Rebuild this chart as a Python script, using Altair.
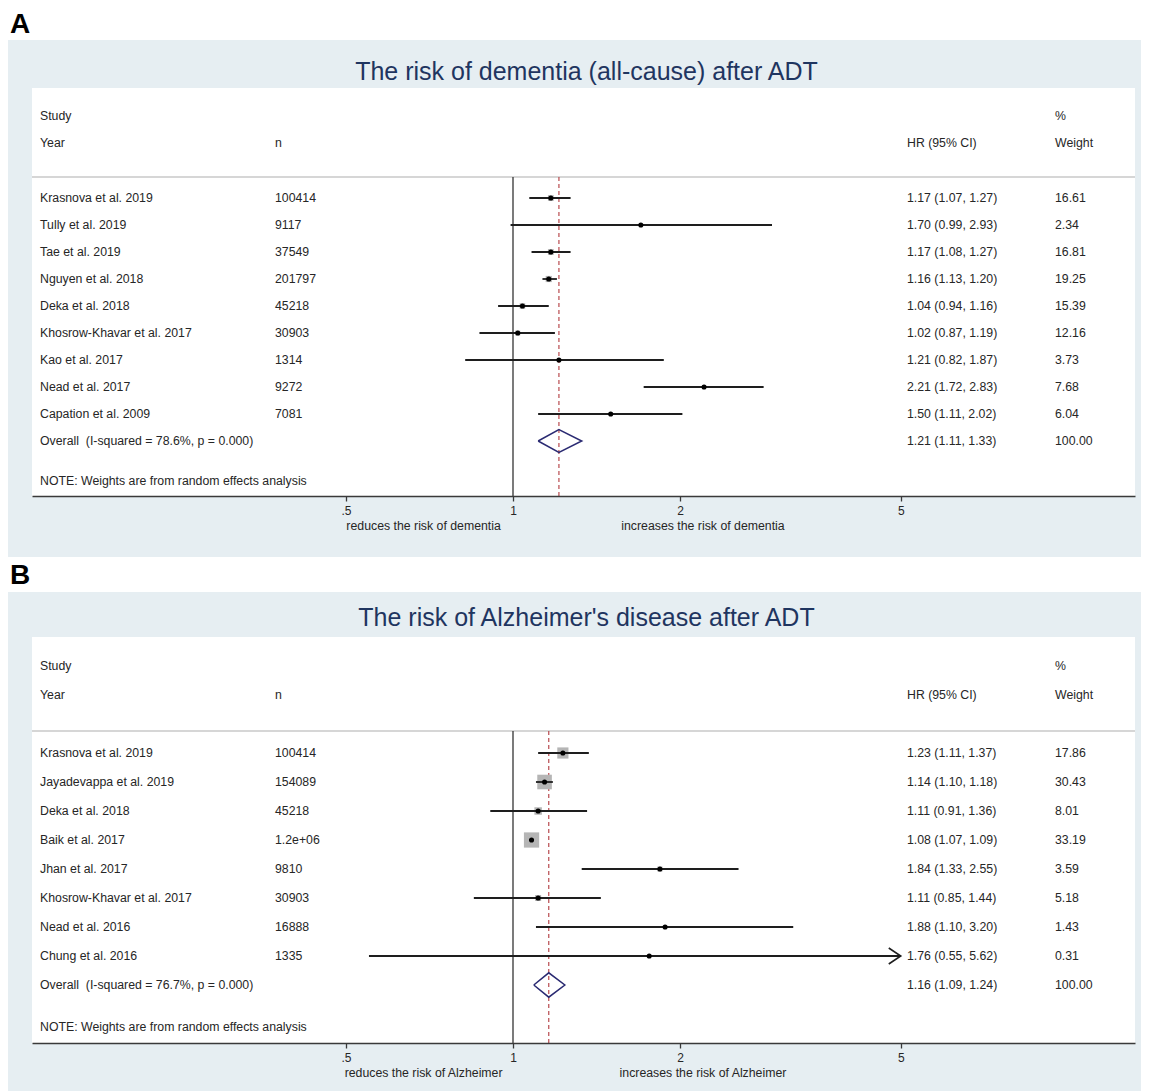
import altair as alt
import pandas as pd

# ---------------- data: panel A ----------------
title_a = "The risk of dementia (all-cause) after ADT"
studies_a = ["Krasnova et al. 2019", "Tully et al. 2019", "Tae et al. 2019",
             "Nguyen et al. 2018", "Deka et al. 2018", "Khosrow-Khavar et al. 2017",
             "Kao et al. 2017", "Nead et al. 2017", "Capation et al. 2009"]
n_a = ["100414", "9117", "37549", "201797", "45218", "30903", "1314", "9272", "7081"]
hr_a = [1.17, 1.70, 1.17, 1.16, 1.04, 1.02, 1.21, 2.21, 1.50]
lo_a = [1.07, 0.99, 1.08, 1.13, 0.94, 0.87, 0.82, 1.72, 1.11]
hi_a = [1.27, 2.93, 1.27, 1.20, 1.16, 1.19, 1.87, 2.83, 2.02]
weight_a = [16.61, 2.34, 16.81, 19.25, 15.39, 12.16, 3.73, 7.68, 6.04]
overall_a = [1.21, 1.11, 1.33]
isq_a = "78.6%"
p_a = "0.000"
outcome_a = "dementia"

# ---------------- data: panel B ----------------
title_b = "The risk of Alzheimer's disease after ADT"
studies_b = ["Krasnova et al. 2019", "Jayadevappa et al. 2019", "Deka et al. 2018",
             "Baik et al. 2017", "Jhan et al. 2017", "Khosrow-Khavar et al. 2017",
             "Nead et al. 2016", "Chung et al. 2016"]
n_b = ["100414", "154089", "45218", "1.2e+06", "9810", "30903", "16888", "1335"]
hr_b = [1.23, 1.14, 1.11, 1.08, 1.84, 1.11, 1.88, 1.76]
lo_b = [1.11, 1.10, 0.91, 1.07, 1.33, 0.85, 1.10, 0.55]
hi_b = [1.37, 1.18, 1.36, 1.09, 2.55, 1.44, 3.20, 5.62]
weight_b = [17.86, 30.43, 8.01, 33.19, 3.59, 5.18, 1.43, 0.31]
overall_b = [1.16, 1.09, 1.24]
isq_b = "76.7%"
p_b = "0.000"
outcome_b = "Alzheimer"

tick_values = [0.5, 1, 2, 5]
note_text = "NOTE: Weights are from random effects analysis"

# ---------------- style / layout ----------------
FONT = "Liberation Sans"
TXT = "#262626"
BG = "#e6eef2"
W = 1103          # white plotting region width
X_ONE = 481       # pixel of HR = 1 inside the region
UNIT = 167        # pixels per doubling
XMIN = 2 ** (-X_ONE / UNIT)
XMAX = 2 ** ((W - X_ONE) / UNIT)
X_END = 5         # end of the forest-plot x range (arrows beyond)
FS = 12.3
COL_STUDY, COL_N, COL_HR, COL_W = 8, 243, 875, 1023
FRAME_L, FRAME_R = -24, 1109

lay_a = dict(H=408, row0=110, step=27, study=28, year=55, sep=89, note=393,
             title=-16, letter=-63, sub=438, ft=-48, fb=469, spacer=-80,
             sq_range=40, sq_dom=20)
lay_b = dict(H=406, row0=116, step=29, study=29, year=58, sep=94, note=390,
             title=-19, letter=-61, sub=436, ft=-45, fb=454, spacer=-80,
             sq_range=245, sq_dom=35)


def panel(letter, title, studies, ns, hr, lo, hi, weights, overall, isq, pval, outcome, lay):
    H = lay["H"]
    y_top = -lay["row0"] / lay["step"]
    y_bot = (H - lay["row0"]) / lay["step"]
    xs = alt.Scale(type="log", domain=[XMIN, XMAX], nice=False, zero=False)
    ys = alt.Scale(domain=[y_top, y_bot], reverse=True, nice=False, zero=False)
    xaxis = alt.Axis(values=tick_values,
                     labelExpr="datum.value == 0.5 ? '.5' : format(datum.value, 'd')",
                     title=None, grid=False, tickSize=5, tickWidth=1.3,
                     tickColor="#3a3a3a", domainColor="#3a3a3a", domainWidth=1.6,
                     labelFont=FONT, labelFontSize=12, labelColor=TXT,
                     labelPadding=4, labelFlush=False, zindex=1)

    def X(f):
        return alt.X(f, type="quantitative", scale=xs, axis=xaxis)

    def Y(f):
        return alt.Y(f, type="quantitative", scale=ys, axis=None)

    k = len(studies)
    df = pd.DataFrame({"study": studies, "n": ns, "hr": hr, "lo": lo, "hi": hi, "w": weights})
    df["row"] = list(range(k))
    df["hi_draw"] = df["hi"].clip(upper=X_END)
    df["hr_text"] = [f"{e:.2f} ({l:.2f}, {h:.2f})" for e, l, h in zip(hr, lo, hi)]
    df["w_text"] = [f"{v:.2f}" for v in weights]

    est, olo, ohi = overall
    ov = pd.DataFrame({"row": [k],
                       "label": [f"Overall\u00a0 (I-squared = {isq}, p = {pval})"],
                       "hr_text": [f"{est:.2f} ({olo:.2f}, {ohi:.2f})"],
                       "w_text": ["100.00"]})
    h = 0.42
    diamond = pd.DataFrame({"x": [olo, est, ohi, est, olo],
                            "y": [k, k - h, k, k + h, k],
                            "o": [0, 1, 2, 3, 4]})
    arrows = df[df["hi"] > X_END].assign(xa=X_END)
    one = pd.DataFrame({"d": [0]})
    refs = pd.DataFrame({"x": [1.0]})
    est_ref = pd.DataFrame({"x": [est]})
    subs = pd.DataFrame({"x": [0.69, 2.2],
                         "t": [f"reduces the risk of {outcome}", f"increases the risk of {outcome}"]})
    headers = pd.DataFrame({
        "t": ["Study", "Year", "n", "HR (95% CI)", "%", "Weight"],
        "px": [COL_STUDY, COL_STUDY, COL_N, COL_HR, COL_W, COL_W],
        "py": [lay["study"], lay["year"], lay["year"], lay["year"], lay["study"], lay["year"]],
    })

    text_kw = dict(font=FONT, fontSize=FS, color=TXT, align="left", baseline="middle")

    layers = [
        alt.Chart(one).mark_rect(color="white").encode(
            x=alt.value(FRAME_L), x2=alt.value(FRAME_R),
            y=alt.value(lay["spacer"]), y2=alt.value(lay["ft"])),
        alt.Chart(one).mark_rect(color=BG).encode(
            x=alt.value(FRAME_L), x2=alt.value(FRAME_R),
            y=alt.value(lay["ft"]), y2=alt.value(lay["fb"])),
        alt.Chart(one).mark_rect(color="white").encode(
            x=alt.value(0), x2=alt.value(W), y=alt.value(0), y2=alt.value(H)),
        alt.Chart(one).mark_text(text=letter, font=FONT, fontSize=28, fontWeight="bold",
                                 color="#000000", align="left", baseline="middle").encode(
            x=alt.value(FRAME_L + 2), y=alt.value(lay["letter"])),
        alt.Chart(one).mark_text(text=title, font=FONT, fontSize=25, color="#1f3560",
                                 align="center", baseline="middle").encode(
            x=alt.value(W / 2 + 3), y=alt.value(lay["title"])),
        alt.Chart(headers).mark_text(**text_kw).encode(
            x=alt.X("px:Q", scale=None), y=alt.Y("py:Q", scale=None), text="t:N"),
        alt.Chart(one).mark_rule(color="#c9c9c9", strokeWidth=1.5).encode(
            x=alt.value(0), x2=alt.value(W), y=alt.value(lay["sep"])),
        alt.Chart(refs).mark_rule(color="#333333", strokeWidth=1.3).encode(
            x=X("x"), y=alt.value(lay["sep"]), y2=alt.value(H)),
        alt.Chart(est_ref).mark_rule(color="#b84a4e", strokeWidth=1.2, strokeDash=[4, 3]).encode(
            x=X("x"), y=alt.value(lay["sep"]), y2=alt.value(H)),
        alt.Chart(df).mark_square(color="#b5b5b5", opacity=1).encode(
            x=X("hr"), y=Y("row"),
            size=alt.Size("w:Q", scale=alt.Scale(domain=[0, lay["sq_dom"]],
                                                 range=[0, lay["sq_range"]]), legend=None)),
        alt.Chart(df).mark_rule(color="#1e1e1e", strokeWidth=1.8).encode(
            x=X("lo"), x2="hi_draw", y=Y("row")),
        alt.Chart(df).mark_circle(color="#000000", size=26, opacity=1).encode(
            x=X("hr"), y=Y("row")),
        alt.Chart(arrows).mark_point(shape="M-1.5,-1L0,0L-1.5,1", filled=False, size=256,
                                     color="#1e1e1e", strokeWidth=1.6, opacity=1).encode(
            x=X("xa"), y=Y("row")),
        alt.Chart(diamond).mark_line(color="#2a2a72", strokeWidth=1.5).encode(
            x=X("x"), y=Y("y"), order="o:Q"),
        alt.Chart(df).mark_text(**text_kw).encode(
            x=alt.value(COL_STUDY), y=Y("row"), text="study:N"),
        alt.Chart(df).mark_text(**text_kw).encode(
            x=alt.value(COL_N), y=Y("row"), text="n:N"),
        alt.Chart(df).mark_text(**text_kw).encode(
            x=alt.value(COL_HR), y=Y("row"), text="hr_text:N"),
        alt.Chart(df).mark_text(**text_kw).encode(
            x=alt.value(COL_W), y=Y("row"), text="w_text:N"),
        alt.Chart(ov).mark_text(**text_kw).encode(
            x=alt.value(COL_STUDY), y=Y("row"), text="label:N"),
        alt.Chart(ov).mark_text(**text_kw).encode(
            x=alt.value(COL_HR), y=Y("row"), text="hr_text:N"),
        alt.Chart(ov).mark_text(**text_kw).encode(
            x=alt.value(COL_W), y=Y("row"), text="w_text:N"),
        alt.Chart(one).mark_text(text=note_text, **text_kw).encode(
            x=alt.value(COL_STUDY), y=alt.value(lay["note"])),
        alt.Chart(subs).mark_text(font=FONT, fontSize=FS, color=TXT, align="center",
                                  baseline="middle").encode(
            x=X("x"), y=alt.value(lay["sub"]), text="t:N"),
    ]
    return alt.layer(*layers).properties(width=W, height=H)


pa = panel("A", title_a, studies_a, n_a, hr_a, lo_a, hi_a, weight_a, overall_a,
           isq_a, p_a, outcome_a, lay_a)
pb = panel("B", title_b, studies_b, n_b, hr_b, lo_b, hi_b, weight_b, overall_b,
           isq_b, p_b, outcome_b, lay_b)

chart = alt.vconcat(pa, pb, spacing=0).resolve_scale(size="independent").properties(
    padding=0, background="white"
).configure_view(stroke=None)

chart.save("out.html", embed_options={"renderer": "svg", "actions": False})
